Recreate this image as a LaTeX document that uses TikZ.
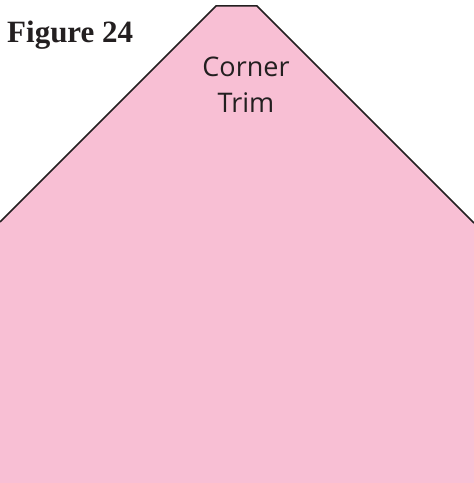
\documentclass[tikz,border=0pt]{standalone}
\usepackage{fontspec}
\setmainfont{Liberation Serif}
\newfontfamily\labelfont{Open Sans}
\usepackage{tikz}
\usepackage{xcolor}
\definecolor{trimpink}{HTML}{F8BFD4}
\definecolor{ink}{HTML}{231F20}
\tikzset{
  trimfill/.style={fill=trimpink,draw=none},
  trimedge/.style={draw=ink,line width=1.5pt,line join=miter},
  figtitle/.style={inner sep=0pt,anchor=base west,
                   font=\fontsize{31}{36}\selectfont\bfseries,text=ink},
  trimlabel/.style={inner sep=0pt,anchor=base,
                    font=\labelfont\fontsize{27}{36}\selectfont,text=ink}
}

\begin{document}
\begin{tikzpicture}[x=1pt,y=1pt]
  \useasboundingbox (0,0) rectangle (474,483);
  \coordinate (lowleft) at (0,261);
  \coordinate (topleft) at (216,477);
  \coordinate (topright) at (257,477);
  \coordinate (lowright) at (474,260);
  \fill[trimfill] (0,0) -- (lowleft) -- (topleft) -- (topright) -- (lowright) -- (474,0) -- cycle;
  \draw[trimedge] (lowleft) -- (topleft) -- (topright) -- (lowright);
  \node[figtitle] (title) at (7,440) {Figure 24};
  \node[trimlabel] (corner) at (246,406) {Corner};
  \node[trimlabel] (trim) at (246,370) {Trim};
\end{tikzpicture}
\end{document}
